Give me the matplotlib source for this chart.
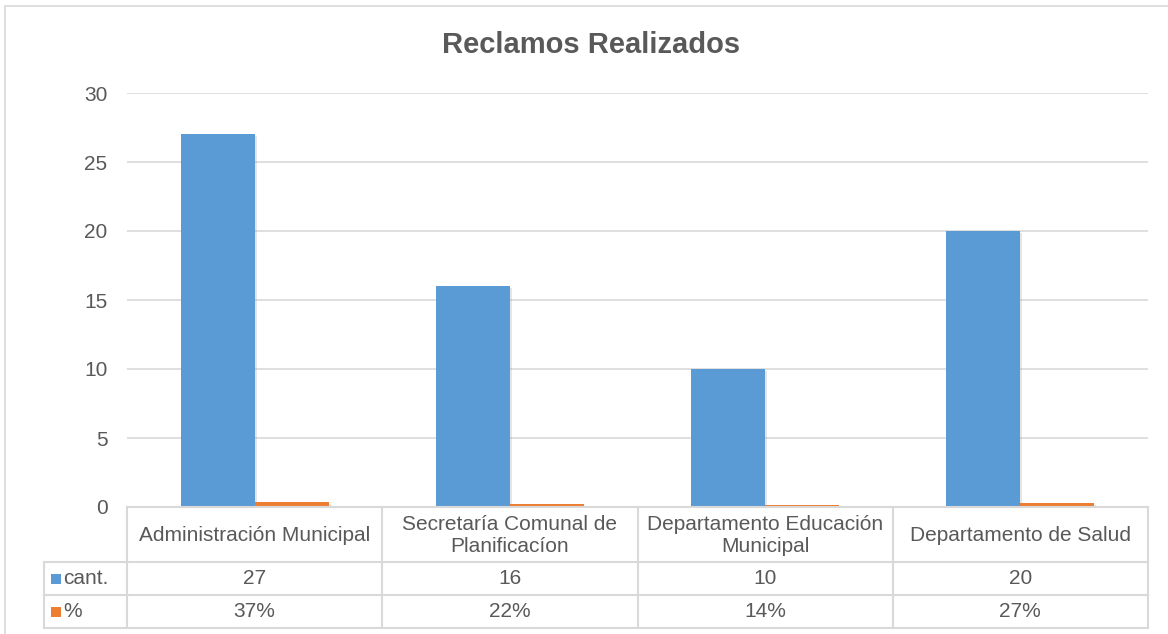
import matplotlib
matplotlib.use("Agg")
import matplotlib.pyplot as plt
from matplotlib.patches import Rectangle
from matplotlib import patheffects as pe
import matplotlib.transforms as mtransforms

plt.rcParams['font.family'] = ['Liberation Sans', 'DejaVu Sans']

categories = ["Administración Municipal", "Secretaría Comunal de\nPlanificacíon",
              "Departamento Educación\nMunicipal", "Departamento de Salud"]
cant = [27, 16, 10, 20]
pct = [0.37, 0.22, 0.14, 0.27]
pct_labels = ["37%", "22%", "14%", "27%"]
series_names = ["cant.", "%"]
yticks = [0, 5, 10, 15, 20, 25, 30]

BLUE = "#5B9BD5"
ORANGE = "#ED7D31"
GRID = "#D9D9D9"
TXT = "#595959"
FS = 15

W, H = 1168, 634
fig = plt.figure(figsize=(W / 100, H / 100), dpi=100)

# outer chart border
fig.patches.append(Rectangle((5 / W, -0.05), 1.1, 1 - 6 / H + 0.05, transform=fig.transFigure,
                             fill=False, edgecolor=GRID, linewidth=1.2))

left, right = 127 / W, 1148 / W
bottom, top = 1 - 507 / H, 1 - 93 / H
ax = fig.add_axes([left, bottom, right - left, top - bottom])

x = list(range(len(categories)))
bw = 0.29
shadow = [pe.SimplePatchShadow(offset=(1.5, -1.5), shadow_rgbFace="#999999", alpha=0.25), pe.Normal()]
b1 = ax.bar([i - bw / 2 for i in x], cant, width=bw, color=BLUE, zorder=3)
b2 = ax.bar([i + bw / 2 for i in x], pct, width=bw, color=ORANGE, zorder=3)
for b in list(b1) + list(b2):
    b.set_path_effects(shadow)

ax.set_xlim(-0.5, len(categories) - 0.5)
ax.set_ylim(0, 30)
ax.set_yticks(yticks)
ax.set_yticklabels([str(t) for t in yticks], fontsize=FS, color=TXT)
ax.tick_params(axis='y', length=0, pad=14)
ax.set_xticks([])
ax.grid(axis='y', color=GRID, linewidth=1.2, zorder=0)
for s in ax.spines.values():
    s.set_visible(False)

# data table below the axes
trans = mtransforms.blended_transform_factory(ax.transData, fig.transFigure)
ftrans = fig.transFigure
def fy(py):
    return 1 - py / H

row_y = [507, 562, 595, 628]
lab_left = 44 / W
lkw = dict(color=GRID, linewidth=1.5, clip_on=False)
fig.add_artist(plt.Line2D([left, right], [fy(507), fy(507)], transform=ftrans, **lkw))
for py in row_y[1:]:
    fig.add_artist(plt.Line2D([lab_left, right], [fy(py), fy(py)], transform=ftrans, **lkw))
for i in range(len(categories) + 1):
    xx = left + (right - left) * i / len(categories)
    fig.add_artist(plt.Line2D([xx, xx], [fy(507), fy(628)], transform=ftrans, **lkw))
fig.add_artist(plt.Line2D([lab_left, lab_left], [fy(562), fy(628)], transform=ftrans, **lkw))

tkw = dict(fontsize=FS, color=TXT, ha='center', va='center', linespacing=1.2)
for i, c in enumerate(categories):
    ax.text(i, fy((507 + 562) / 2 + 1), c, transform=trans, **tkw)
    ax.text(i, fy((562 + 595) / 2), str(cant[i]), transform=trans, **tkw)
    ax.text(i, fy((595 + 628) / 2), pct_labels[i], transform=trans, **tkw)

for (py0, py1), name, col in zip([(562, 595), (595, 628)], series_names, [BLUE, ORANGE]):
    yc = fy((py0 + py1) / 2)
    fig.patches.append(Rectangle((51 / W, yc - 5 / H), 9.5 / W, 10 / H, transform=ftrans,
                                 facecolor=col, edgecolor='none'))
    fig.text(63 / W, yc, name, fontsize=FS, color=TXT, ha='left', va='center')

fig.text(591 / W, 1 - 45 / H, "Reclamos Realizados", fontsize=21, fontweight='bold',
         color=TXT, ha='center', va='center')

fig.savefig("out.png", dpi=100, facecolor='white')
